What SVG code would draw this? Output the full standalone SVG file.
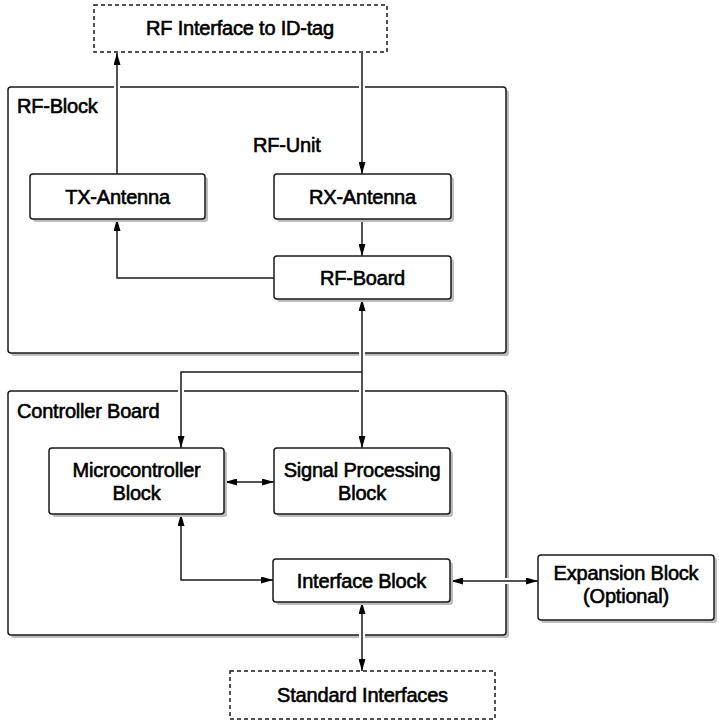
<svg xmlns="http://www.w3.org/2000/svg" width="719" height="722" viewBox="0 0 719 722">
<style>
.box{fill:#fff;stroke:#1a1a1a;stroke-width:1.5}
.sh{fill:#bdbdbd}
.dash{fill:#fff;stroke:#1a1a1a;stroke-width:1.5;stroke-dasharray:4 3}
.t{font-family:"Liberation Sans",Arial,sans-serif;font-size:20px;fill:#000;stroke:#000;stroke-width:0.6;text-anchor:middle;letter-spacing:-0.2px}
.l{text-anchor:start}
.c{fill:none;stroke:#1a1a1a;stroke-width:1.5}
.h{fill:none;stroke:#fff;stroke-width:6}
</style>
<defs>
<marker id="a" viewBox="0 0 12 7" refX="12" refY="3.5" markerWidth="12" markerHeight="7" markerUnits="userSpaceOnUse" orient="auto-start-reverse">
<path d="M0,0 L12,3.5 L0,7 Z" fill="#000"/>
</marker>
</defs>
<rect width="719" height="722" fill="#fff"/>
<g id="rf-block">
<rect class="sh" x="11" y="90" width="498" height="266" rx="3"/>
<rect class="box" x="8" y="87" width="498" height="266" rx="3"/>
<text class="t l" x="17" y="113">RF-Block</text>
<text class="t l" x="253" y="152">RF-Unit</text>
</g>
<g id="controller-board">
<rect class="sh" x="11" y="394" width="498" height="244" rx="3"/>
<rect class="box" x="8" y="391" width="498" height="244" rx="3"/>
<text class="t l" x="17" y="418">Controller Board</text>
</g>
<g id="connectors">
<path class="h" d="M117,170 V60"/>
<path class="h" d="M362,57 V168"/>
<path class="h" d="M181,372 H362 M362,306 V442 M181,372 V442"/>
<path class="h" d="M362,608 V664"/>
<path class="h" d="M456,581 H532"/>
<path class="c" d="M117,174 V53" marker-end="url(#a)"/>
<path class="c" d="M362,53 V174" marker-end="url(#a)"/>
<path class="c" d="M362,219 V256" marker-end="url(#a)"/>
<path class="c" d="M274,278 H117 V219" marker-end="url(#a)"/>
<path class="c" d="M362,299 V448" marker-start="url(#a)" marker-end="url(#a)"/>
<path class="c" d="M362,372 H181 V448" marker-end="url(#a)"/>
<path class="c" d="M225,482 H274" marker-start="url(#a)" marker-end="url(#a)"/>
<path class="c" d="M181,514 V580 H273" marker-start="url(#a)" marker-end="url(#a)"/>
<path class="c" d="M451,581 H538" marker-start="url(#a)" marker-end="url(#a)"/>
<path class="c" d="M362,602 V671" marker-start="url(#a)" marker-end="url(#a)"/>
</g>
<g id="rf-interface">
<rect class="dash" x="94" y="5" width="293" height="47"/>
<text class="t" x="240" y="35">RF Interface to ID-tag</text>
</g>
<g id="tx-antenna">
<rect class="sh" x="33" y="177" width="175" height="45" rx="3"/>
<rect class="box" x="30" y="174" width="175" height="45" rx="3"/>
<text class="t" x="117.5" y="204">TX-Antenna</text>
</g>
<g id="rx-antenna">
<rect class="sh" x="277" y="177" width="177" height="45" rx="3"/>
<rect class="box" x="274" y="174" width="177" height="45" rx="3"/>
<text class="t" x="362.5" y="204">RX-Antenna</text>
</g>
<g id="rf-board">
<rect class="sh" x="277" y="259" width="177" height="43" rx="3"/>
<rect class="box" x="274" y="256" width="177" height="43" rx="3"/>
<text class="t" x="362.5" y="285">RF-Board</text>
</g>
<g id="microcontroller">
<rect class="sh" x="52" y="451" width="175" height="66" rx="3"/>
<rect class="box" x="49" y="448" width="175" height="66" rx="3"/>
<text class="t" x="136.5" y="477">Microcontroller</text>
<text class="t" x="136.5" y="500">Block</text>
</g>
<g id="signal-processing">
<rect class="sh" x="277" y="451" width="176" height="66" rx="3"/>
<rect class="box" x="274" y="448" width="176" height="66" rx="3"/>
<text class="t" x="362" y="477">Signal Processing</text>
<text class="t" x="362" y="500">Block</text>
</g>
<g id="interface-block">
<rect class="sh" x="276" y="562" width="177" height="43" rx="3"/>
<rect class="box" x="273" y="559" width="177" height="43" rx="3"/>
<text class="t" x="361.5" y="588">Interface Block</text>
</g>
<g id="expansion-block">
<rect class="sh" x="541" y="558" width="176" height="65" rx="3"/>
<rect class="box" x="538" y="555" width="176" height="65" rx="3"/>
<text class="t" x="626" y="580">Expansion Block</text>
<text class="t" x="626" y="603">(Optional)</text>
</g>
<g id="standard-interfaces">
<rect class="dash" x="230" y="671" width="265" height="48"/>
<text class="t" x="362.5" y="702">Standard Interfaces</text>
</g>
</svg>
